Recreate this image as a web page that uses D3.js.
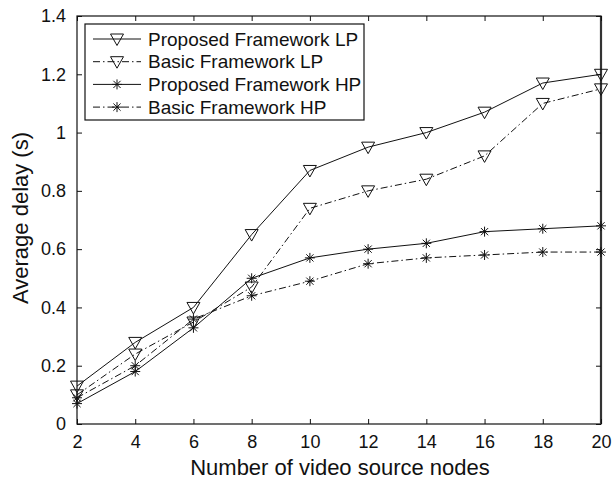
<!DOCTYPE html>
<html>
<head>
<meta charset="utf-8">
<script src="https://cdn.jsdelivr.net/npm/d3@7"></script>
<style>
  body { margin: 0; background: #fff; }
  svg { display: block; font-family: "Liberation Sans", Arial, sans-serif; }
  .tick text { font-size: 18px; fill: #111; font-family: "Liberation Sans", Arial, sans-serif; }
</style>
</head>
<body>
<svg width="613" height="479"></svg>
<script>
const nodes = [2, 4, 6, 8, 10, 12, 14, 16, 18, 20];
const proposedLP = [0.13, 0.28, 0.40, 0.65, 0.87, 0.95, 1.00, 1.07, 1.17, 1.20];
const basicLP    = [0.10, 0.24, 0.35, 0.47, 0.74, 0.80, 0.84, 0.92, 1.10, 1.15];
const proposedHP = [0.07, 0.18, 0.33, 0.50, 0.57, 0.60, 0.62, 0.66, 0.67, 0.68];
const basicHP    = [0.09, 0.20, 0.36, 0.44, 0.49, 0.55, 0.57, 0.58, 0.59, 0.59];
const yTicks = [0, 0.2, 0.4, 0.6, 0.8, 1, 1.2, 1.4];

const series = [
  { name: 'Proposed Framework LP', values: proposedLP, dash: null, marker: 'tri' },
  { name: 'Basic Framework LP', values: basicLP, dash: '7,3,1.5,3', marker: 'tri' },
  { name: 'Proposed Framework HP', values: proposedHP, dash: null, marker: 'star' },
  { name: 'Basic Framework HP', values: basicHP, dash: '7,3,1.5,3', marker: 'star' }
];

const svg = d3.select('svg');
const margin = { top: 16, right: 12, bottom: 55, left: 77 };
const width = +svg.attr('width');
const height = +svg.attr('height');
const innerWidth = width - margin.left - margin.right;
const innerHeight = height - margin.top - margin.bottom;

const xScale = d3.scaleLinear().domain([2, 20]).range([0, innerWidth]);
const yScale = d3.scaleLinear().domain([0, 1.4]).range([innerHeight, 0]);

const g = svg.append('g')
  .attr('transform', `translate(${margin.left}, ${margin.top})`);

// box
g.append('rect')
  .attr('width', innerWidth).attr('height', innerHeight)
  .attr('fill', 'none').attr('stroke', '#111').attr('stroke-width', 1.2);
// right edge looks heavier in the original
g.append('line')
  .attr('x1', innerWidth).attr('x2', innerWidth)
  .attr('y1', 0).attr('y2', innerHeight)
  .attr('stroke', '#333').attr('stroke-width', 2.2);

// inward ticks on all sides
const xAxisG = g.append('g')
  .attr('transform', `translate(0, ${innerHeight})`)
  .call(d3.axisBottom(xScale).tickValues(nodes).tickSize(-5).tickPadding(11).tickFormat(d3.format('d')));
const yAxisG = g.append('g')
  .call(d3.axisLeft(yScale).tickValues(yTicks).tickSize(-5).tickPadding(11).tickFormat(d => d3.format('~g')(d)));
const xTopG = g.append('g')
  .call(d3.axisTop(xScale).tickValues(nodes).tickSize(-5).tickFormat(''));
const yRightG = g.append('g')
  .attr('transform', `translate(${innerWidth}, 0)`)
  .call(d3.axisRight(yScale).tickValues(yTicks).tickSize(-5).tickFormat(''));

[xAxisG, yAxisG, xTopG, yRightG].forEach(a => {
  a.select('.domain').remove();
  a.selectAll('.tick line').attr('stroke', '#111');
});

// axis titles
g.append('text')
  .attr('x', innerWidth / 2 + 1).attr('y', innerHeight + 51)
  .attr('text-anchor', 'middle').attr('font-size', 22).attr('fill', '#111')
  .text('Number of video source nodes');
g.append('text')
  .attr('transform', `translate(-49, ${innerHeight / 2 - 2}) rotate(-90)`)
  .attr('text-anchor', 'middle').attr('font-size', 22).attr('fill', '#111')
  .text('Average delay (s)');

const line = d3.line()
  .x((d, i) => xScale(nodes[i]))
  .y(d => yScale(d));

const drawMarker = (sel, type) => {
  if (type === 'tri') {
    sel.append('path')
      .attr('d', 'M-6.5,-5 L6.5,-5 L0,6.5 Z')
      .attr('fill', 'none').attr('stroke', '#111').attr('stroke-width', 1);
  } else {
    sel.append('path')
      .attr('d', 'M-5,0 L5,0 M0,-5 L0,5 M-3.6,-3.6 L3.6,3.6 M-3.6,3.6 L3.6,-3.6')
      .attr('fill', 'none').attr('stroke', '#111').attr('stroke-width', 1);
  }
};

series.forEach(s => {
  g.append('path')
    .datum(s.values)
    .attr('d', line)
    .attr('fill', 'none')
    .attr('stroke', '#111')
    .attr('stroke-width', 1)
    .attr('stroke-dasharray', s.dash);

  g.selectAll(null).data(s.values)
    .enter().append('g')
      .attr('transform', (d, i) => `translate(${xScale(nodes[i])}, ${yScale(d)})`)
      .each(function() { drawMarker(d3.select(this), s.marker); });
});

// legend
const legend = g.append('g').attr('transform', 'translate(8, 8)');
legend.append('rect')
  .attr('width', 279).attr('height', 96)
  .attr('fill', '#fff').attr('stroke', '#111').attr('stroke-width', 1.2);

series.forEach((s, i) => {
  const row = legend.append('g').attr('transform', `translate(0, ${15 + i * 22.7})`);
  row.append('line')
    .attr('x1', 8).attr('x2', 56).attr('y1', 0).attr('y2', 0)
    .attr('stroke', '#111').attr('stroke-width', 1)
    .attr('stroke-dasharray', s.dash);
  drawMarker(row.append('g').attr('transform', 'translate(32, 0)'), s.marker);
  row.append('text')
    .attr('x', 63).attr('y', 0).attr('dy', '0.35em')
    .attr('font-size', 19).attr('fill', '#111')
    .text(s.name);
});
</script>
</body>
</html>
